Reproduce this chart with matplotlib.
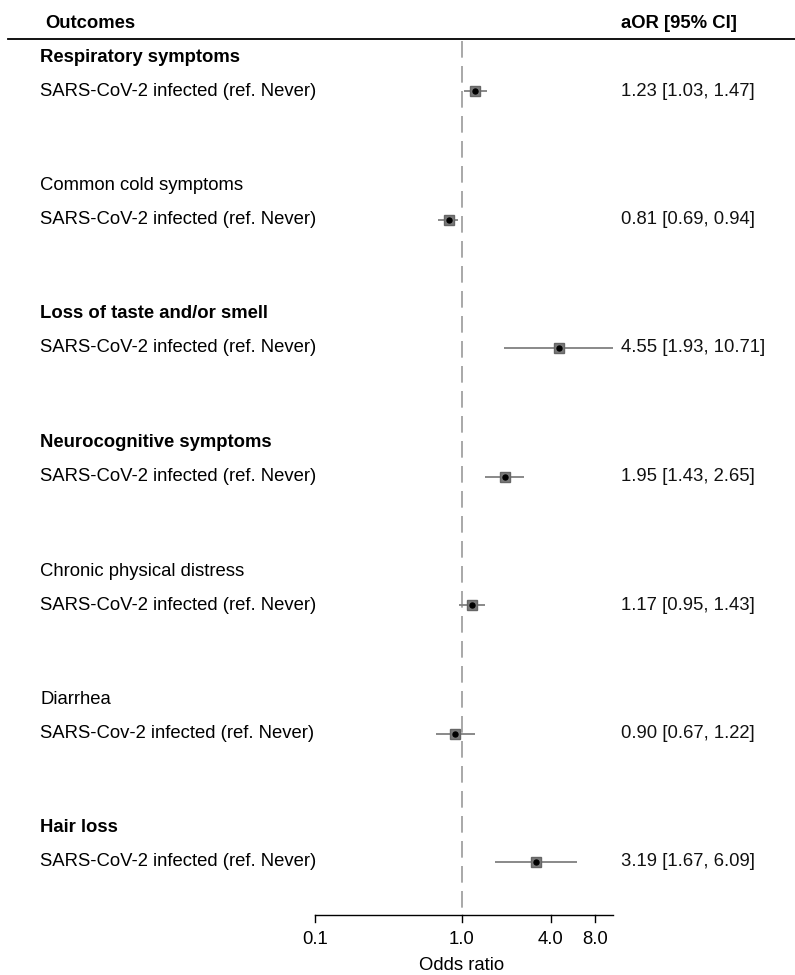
import numpy as np
import matplotlib
matplotlib.use("Agg")
import matplotlib.pyplot as plt

plt.rcParams['font.family'] = ['Liberation Sans', 'DejaVu Sans']

# outcome groups
outcomes = ['Respiratory symptoms', 'Common cold symptoms', 'Loss of taste and/or smell',
            'Neurocognitive symptoms', 'Chronic physical distress', 'Diarrhea', 'Hair loss']
bold = [True, False, True, True, False, False, True]
rows = ['SARS-CoV-2 infected (ref. Never)'] * 5 + ['SARS-Cov-2 infected (ref. Never)',
                                                  'SARS-CoV-2 infected (ref. Never)']
est = [1.23, 0.81, 4.55, 1.95, 1.17, 0.90, 3.19]
lo = [1.03, 0.69, 1.93, 1.43, 0.95, 0.67, 1.67]
hi = [1.47, 0.94, 10.71, 2.65, 1.43, 1.22, 6.09]
ticks = [0.1, 1.0, 4.0, 8.0]
tick_labels = ['0.1', '1.0', '4.0', '8.0']

W, H = 795, 975
fig = plt.figure(figsize=(W / 100, H / 100), dpi=100)
ax = fig.add_axes([0, 0, 1, 1])
ax.set_xscale('log')
# 1 decade = 147 px, OR=1 at x=462
ax.set_xlim(10 ** (-462 / 147), 10 ** ((W - 462) / 147))
ax.set_ylim(H, 0)
ax.axis('off')
tx = ax.get_yaxis_transform()  # x in axes coords, y in data

fs = 13.3
ycol = 91 + 128.5 * np.arange(len(est))
axis_y = 915

# header
ax.text(45 / W, 23, 'Outcomes', transform=tx, fontsize=fs, fontweight='bold', va='center')
ax.text(621 / W, 23, 'aOR [95% CI]', transform=tx, fontsize=fs, fontweight='bold',
        va='center')
ax.plot([8 / W, 1], [39, 39], transform=tx, color='black', lw=1.3, clip_on=False)

# reference line
ax.plot([1, 1], [41, axis_y], color='#9a9a9a', lw=1.2, dashes=(10, 5))

for i in range(len(est)):
    y = ycol[i]
    ax.text(40 / W, y - 34, outcomes[i], transform=tx, fontsize=fs, va='center',
            fontweight='bold' if bold[i] else 'normal')
    ax.text(40 / W, y, rows[i], transform=tx, fontsize=fs, va='center')
    ax.plot([lo[i], hi[i]], [y, y], color='#808080', lw=1.3, solid_capstyle='butt')
    ax.plot(est[i], y, marker='s', ms=6.5, color='#7a7a7a', mec='#666666')
    ax.plot(est[i], y, marker='o', ms=3.6, color='black')
    ax.text(621 / W, y, '%.2f [%.2f, %.2f]' % (est[i], lo[i], hi[i]), transform=tx,
            fontsize=fs, va='center', color='#111111')

# x axis
ax.plot([ticks[0], max(hi)], [axis_y, axis_y], color='black', lw=1.0)
for t, lab in zip(ticks, tick_labels):
    ax.plot([t, t], [axis_y, axis_y + 7], color='black', lw=1.0)
    ax.text(t, 940, lab, fontsize=fs, ha='center', va='center')
ax.text(1.0, 966, 'Odds ratio', fontsize=fs, ha='center', va='center')

fig.savefig('out.png', dpi=100, facecolor='white')
